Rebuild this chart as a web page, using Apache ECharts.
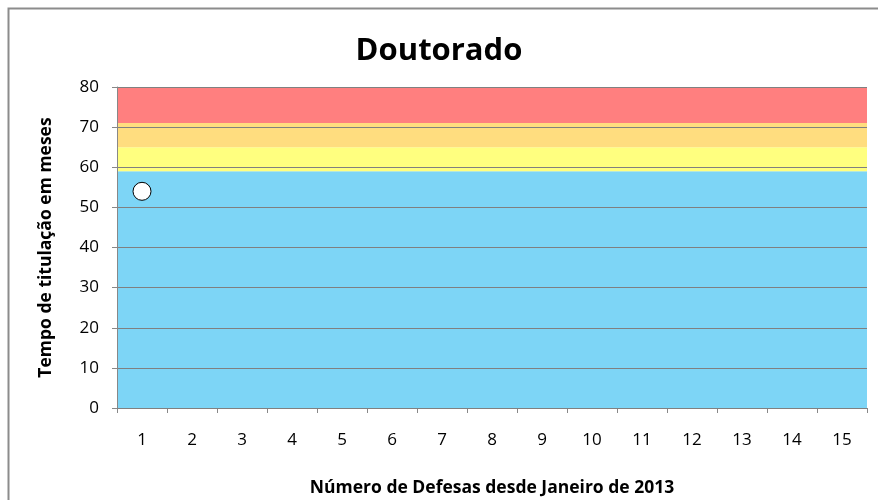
<!DOCTYPE html>
<html>
<head>
<meta charset="utf-8">
<script src="https://cdn.jsdelivr.net/npm/echarts@6/dist/echarts.min.js"></script>
<style>html,body{margin:0;padding:0;background:#fff}#c{width:878px;height:500px}</style>
</head>
<body>
<div id="c"></div>
<script>
var categories = ['1','2','3','4','5','6','7','8','9','10','11','12','13','14','15'];
var defesaValues = [54];
var bandLimits = [0, 59, 65, 71, 80];
var bandColors = ['#7DD5F6', '#FFFF7F', '#FFDD7F', '#FF7F7F'];
var yTicks = [0, 10, 20, 30, 40, 50, 60, 70, 80];

var font = '"Open Sans", "Liberation Sans", sans-serif';
var bands = [];
for (var i = 0; i < bandColors.length; i++) {
  bands.push([{ yAxis: bandLimits[i], itemStyle: { color: bandColors[i], opacity: 1 } }, { yAxis: bandLimits[i + 1] }]);
}
var points = defesaValues.map(function (v, i) { return [categories[i], v]; });

var chart = echarts.init(document.getElementById('c'), null, { renderer: 'canvas' });
chart.setOption({
  backgroundColor: '#fff',
  animation: false,
  graphic: [{
    type: 'rect', left: 6, top: 6,
    shape: { x: 0, y: 0, width: 900, height: 520 },
    style: { fill: 'none', stroke: '#8c8c8c', lineWidth: 2 },
    silent: true, z: -10
  }],
  title: {
    text: 'Doutorado', left: 'center', top: 31,
    textStyle: { fontFamily: font, fontWeight: 'bold', fontSize: 31, color: '#000' }
  },
  grid: { left: 117, right: 11, top: 87, bottom: 92, containLabel: false, outerBoundsMode: 'none' },
  xAxis: {
    type: 'category', data: categories, boundaryGap: true,
    name: 'Número de Defesas desde Janeiro de 2013', nameLocation: 'middle', nameGap: 71,
    nameTextStyle: { fontFamily: font, fontWeight: 'bold', fontSize: 17.5, color: '#000' },
    axisLine: { show: true, lineStyle: { color: '#888', width: 1 } },
    axisTick: { show: true, length: 5, alignWithLabel: false, lineStyle: { color: '#888' } },
    axisLabel: { fontFamily: font, fontSize: 17, color: '#000', margin: 24, interval: 0 },
    splitLine: { show: false }
  },
  yAxis: {
    type: 'value', min: yTicks[0], max: yTicks[yTicks.length - 1], interval: 10,
    name: 'Tempo de titulação em meses', nameLocation: 'middle', nameGap: 62,
    nameTextStyle: { fontFamily: font, fontWeight: 'bold', fontSize: 17.5, color: '#000' },
    axisLine: { show: true, lineStyle: { color: '#888', width: 1 } },
    axisTick: { show: true, length: 5, lineStyle: { color: '#888' } },
    axisLabel: { fontFamily: font, fontSize: 17, color: '#000', margin: 18 },
    splitLine: { show: true, lineStyle: { color: '#808080', width: 1 } },
    z: 5
  },
  series: [{
    type: 'scatter',
    data: points,
    symbol: 'circle', symbolSize: 18,
    itemStyle: { color: '#fff', borderColor: '#000', borderWidth: 1, opacity: 1 },
    z: 10,
    markArea: { silent: true, data: bands, z: 1 }
  }]
});
</script>
</body>
</html>
